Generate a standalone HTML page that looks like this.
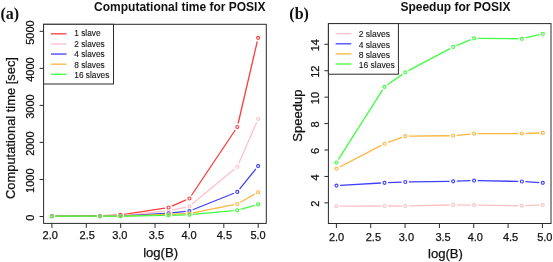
<!DOCTYPE html>
<html><head><meta charset="utf-8"><style>
html,body{margin:0;padding:0;background:#fff;width:553px;height:262px;overflow:hidden}
svg{display:block;will-change:transform}
text{font-family:"Liberation Sans",sans-serif}
</style></head><body>
<svg width="553" height="262" viewBox="0 0 553 262">
<rect width="553" height="262" fill="#ffffff"/>
<path d="M55.50 216.16L96.30 215.74M103.50 215.56L116.90 215.04M124.06 214.35L165.04 208.05M171.90 206.07L186.10 199.93M191.40 195.51L235.30 129.99M238.12 123.49L257.28 41.31" stroke="#ff3c3c" stroke-width="1.3" fill="none" stroke-linecap="butt"/>
<circle cx="51.90" cy="216.20" r="1.5" stroke="#ff3c3c" stroke-width="1.15" fill="none"/>
<circle cx="99.90" cy="215.70" r="1.5" stroke="#ff3c3c" stroke-width="1.15" fill="none"/>
<circle cx="120.50" cy="214.90" r="1.5" stroke="#ff3c3c" stroke-width="1.15" fill="none"/>
<circle cx="168.60" cy="207.50" r="1.5" stroke="#ff3c3c" stroke-width="1.15" fill="none"/>
<circle cx="189.40" cy="198.50" r="1.5" stroke="#ff3c3c" stroke-width="1.15" fill="none"/>
<circle cx="237.30" cy="127.00" r="1.5" stroke="#ff3c3c" stroke-width="1.15" fill="none"/>
<circle cx="258.10" cy="37.80" r="1.5" stroke="#ff3c3c" stroke-width="1.15" fill="none"/>
<path d="M55.50 216.20L96.30 216.20M103.50 216.11L116.90 215.79M124.08 215.34L165.02 211.16M172.12 210.05L185.88 207.15M192.17 204.10L234.53 169.00M238.74 163.40L256.66 122.30" stroke="#ffc0c8" stroke-width="1.3" fill="none" stroke-linecap="butt"/>
<circle cx="51.90" cy="216.20" r="1.5" stroke="#ffc0c8" stroke-width="1.15" fill="none"/>
<circle cx="99.90" cy="216.20" r="1.5" stroke="#ffc0c8" stroke-width="1.15" fill="none"/>
<circle cx="120.50" cy="215.70" r="1.5" stroke="#ffc0c8" stroke-width="1.15" fill="none"/>
<circle cx="168.60" cy="210.80" r="1.5" stroke="#ffc0c8" stroke-width="1.15" fill="none"/>
<circle cx="189.40" cy="206.40" r="1.5" stroke="#ffc0c8" stroke-width="1.15" fill="none"/>
<circle cx="237.30" cy="166.70" r="1.5" stroke="#ffc0c8" stroke-width="1.15" fill="none"/>
<circle cx="258.10" cy="119.00" r="1.5" stroke="#ffc0c8" stroke-width="1.15" fill="none"/>
<path d="M55.50 216.20L96.30 216.20M103.50 216.18L116.90 216.12M124.09 215.88L165.01 213.42M172.18 212.84L185.82 211.46M192.74 209.76L233.96 193.24M239.56 189.10L255.84 168.90" stroke="#4040ff" stroke-width="1.3" fill="none" stroke-linecap="butt"/>
<circle cx="51.90" cy="216.20" r="1.5" stroke="#4040ff" stroke-width="1.15" fill="none"/>
<circle cx="99.90" cy="216.20" r="1.5" stroke="#4040ff" stroke-width="1.15" fill="none"/>
<circle cx="120.50" cy="216.10" r="1.5" stroke="#4040ff" stroke-width="1.15" fill="none"/>
<circle cx="168.60" cy="213.20" r="1.5" stroke="#4040ff" stroke-width="1.15" fill="none"/>
<circle cx="189.40" cy="211.10" r="1.5" stroke="#4040ff" stroke-width="1.15" fill="none"/>
<circle cx="237.30" cy="191.90" r="1.5" stroke="#4040ff" stroke-width="1.15" fill="none"/>
<circle cx="258.10" cy="166.10" r="1.5" stroke="#4040ff" stroke-width="1.15" fill="none"/>
<path d="M55.50 216.20L96.30 216.20M103.50 216.20L116.90 216.20M124.10 216.05L165.00 214.35M172.20 214.10L185.80 213.70M192.93 212.89L233.77 204.71M240.43 202.22L254.97 193.98" stroke="#ffb43c" stroke-width="1.3" fill="none" stroke-linecap="butt"/>
<circle cx="51.90" cy="216.20" r="1.5" stroke="#ffb43c" stroke-width="1.15" fill="none"/>
<circle cx="99.90" cy="216.20" r="1.5" stroke="#ffb43c" stroke-width="1.15" fill="none"/>
<circle cx="120.50" cy="216.20" r="1.5" stroke="#ffb43c" stroke-width="1.15" fill="none"/>
<circle cx="168.60" cy="214.20" r="1.5" stroke="#ffb43c" stroke-width="1.15" fill="none"/>
<circle cx="189.40" cy="213.60" r="1.5" stroke="#ffb43c" stroke-width="1.15" fill="none"/>
<circle cx="237.30" cy="204.00" r="1.5" stroke="#ffb43c" stroke-width="1.15" fill="none"/>
<circle cx="258.10" cy="192.20" r="1.5" stroke="#ffb43c" stroke-width="1.15" fill="none"/>
<path d="M55.50 216.20L96.30 216.20M103.50 216.20L116.90 216.20M124.10 216.14L165.00 215.46M172.20 215.30L185.80 214.90M192.98 214.46L233.72 210.64M240.76 209.32L254.64 205.38" stroke="#40ff40" stroke-width="1.3" fill="none" stroke-linecap="butt"/>
<circle cx="51.90" cy="216.20" r="1.5" stroke="#40ff40" stroke-width="1.15" fill="none"/>
<circle cx="99.90" cy="216.20" r="1.5" stroke="#40ff40" stroke-width="1.15" fill="none"/>
<circle cx="120.50" cy="216.20" r="1.5" stroke="#40ff40" stroke-width="1.15" fill="none"/>
<circle cx="168.60" cy="215.40" r="1.5" stroke="#40ff40" stroke-width="1.15" fill="none"/>
<circle cx="189.40" cy="214.80" r="1.5" stroke="#40ff40" stroke-width="1.15" fill="none"/>
<circle cx="237.30" cy="210.30" r="1.5" stroke="#40ff40" stroke-width="1.15" fill="none"/>
<circle cx="258.10" cy="204.40" r="1.5" stroke="#40ff40" stroke-width="1.15" fill="none"/>
<path d="M340.10 206.19L380.90 206.01M388.10 206.00L401.70 206.00M408.90 205.92L449.60 204.98M456.80 204.93L470.50 205.07M477.70 205.15L518.30 205.75M525.50 205.68L539.20 205.22" stroke="#ffc0c8" stroke-width="1.3" fill="none" stroke-linecap="butt"/>
<circle cx="336.50" cy="206.20" r="1.5" stroke="#ffc0c8" stroke-width="1.15" fill="none"/>
<circle cx="384.50" cy="206.00" r="1.5" stroke="#ffc0c8" stroke-width="1.15" fill="none"/>
<circle cx="405.30" cy="206.00" r="1.5" stroke="#ffc0c8" stroke-width="1.15" fill="none"/>
<circle cx="453.20" cy="204.90" r="1.5" stroke="#ffc0c8" stroke-width="1.15" fill="none"/>
<circle cx="474.10" cy="205.10" r="1.5" stroke="#ffc0c8" stroke-width="1.15" fill="none"/>
<circle cx="521.90" cy="205.80" r="1.5" stroke="#ffc0c8" stroke-width="1.15" fill="none"/>
<circle cx="542.80" cy="205.10" r="1.5" stroke="#ffc0c8" stroke-width="1.15" fill="none"/>
<path d="M340.09 185.39L380.91 183.01M388.10 182.66L401.70 182.14M408.90 181.95L449.60 181.35M456.80 181.18L470.50 180.72M477.70 180.67L518.30 181.43M525.49 181.72L539.21 182.58" stroke="#4040ff" stroke-width="1.3" fill="none" stroke-linecap="butt"/>
<circle cx="336.50" cy="185.60" r="1.5" stroke="#4040ff" stroke-width="1.15" fill="none"/>
<circle cx="384.50" cy="182.80" r="1.5" stroke="#4040ff" stroke-width="1.15" fill="none"/>
<circle cx="405.30" cy="182.00" r="1.5" stroke="#4040ff" stroke-width="1.15" fill="none"/>
<circle cx="453.20" cy="181.30" r="1.5" stroke="#4040ff" stroke-width="1.15" fill="none"/>
<circle cx="474.10" cy="180.60" r="1.5" stroke="#4040ff" stroke-width="1.15" fill="none"/>
<circle cx="521.90" cy="181.50" r="1.5" stroke="#4040ff" stroke-width="1.15" fill="none"/>
<circle cx="542.80" cy="182.80" r="1.5" stroke="#4040ff" stroke-width="1.15" fill="none"/>
<path d="M339.69 167.04L381.31 145.36M387.88 142.46L401.92 137.34M408.90 136.07L449.60 135.73M456.78 135.36L470.52 134.04M477.70 133.68L518.30 133.52M525.50 133.40L539.20 133.00" stroke="#ffb43c" stroke-width="1.3" fill="none" stroke-linecap="butt"/>
<circle cx="336.50" cy="168.70" r="1.5" stroke="#ffb43c" stroke-width="1.15" fill="none"/>
<circle cx="384.50" cy="143.70" r="1.5" stroke="#ffb43c" stroke-width="1.15" fill="none"/>
<circle cx="405.30" cy="136.10" r="1.5" stroke="#ffb43c" stroke-width="1.15" fill="none"/>
<circle cx="453.20" cy="135.70" r="1.5" stroke="#ffb43c" stroke-width="1.15" fill="none"/>
<circle cx="474.10" cy="133.70" r="1.5" stroke="#ffb43c" stroke-width="1.15" fill="none"/>
<circle cx="521.90" cy="133.50" r="1.5" stroke="#ffb43c" stroke-width="1.15" fill="none"/>
<circle cx="542.80" cy="132.90" r="1.5" stroke="#ffb43c" stroke-width="1.15" fill="none"/>
<path d="M338.43 159.46L382.57 89.84M387.45 84.74L402.35 74.36M408.48 70.61L450.02 48.59M456.53 45.53L470.77 39.67M477.70 38.34L518.30 38.76M525.40 37.95L539.30 34.55" stroke="#40ff40" stroke-width="1.3" fill="none" stroke-linecap="butt"/>
<circle cx="336.50" cy="162.50" r="1.5" stroke="#40ff40" stroke-width="1.15" fill="none"/>
<circle cx="384.50" cy="86.80" r="1.5" stroke="#40ff40" stroke-width="1.15" fill="none"/>
<circle cx="405.30" cy="72.30" r="1.5" stroke="#40ff40" stroke-width="1.15" fill="none"/>
<circle cx="453.20" cy="46.90" r="1.5" stroke="#40ff40" stroke-width="1.15" fill="none"/>
<circle cx="474.10" cy="38.30" r="1.5" stroke="#40ff40" stroke-width="1.15" fill="none"/>
<circle cx="521.90" cy="38.80" r="1.5" stroke="#40ff40" stroke-width="1.15" fill="none"/>
<circle cx="542.80" cy="33.70" r="1.5" stroke="#40ff40" stroke-width="1.15" fill="none"/>
<rect x="43.6" y="24.3" width="222.70" height="199.10" fill="none" stroke="#2a2a2a" stroke-width="1.0"/>
<rect x="328.4" y="23.6" width="222.60" height="199.90" fill="none" stroke="#2a2a2a" stroke-width="1.0"/>
<path d="M51.90 223.40V227.90M86.28 223.40V227.90M120.67 223.40V227.90M155.06 223.40V227.90M189.44 223.40V227.90M223.82 223.40V227.90M258.21 223.40V227.90M43.60 216.50H39.60M43.60 179.46H39.60M43.60 142.42H39.60M43.60 105.38H39.60M43.60 68.34H39.60M43.60 31.30H39.60M336.40 223.50V228.00M370.73 223.50V228.00M405.07 223.50V228.00M439.40 223.50V228.00M473.74 223.50V228.00M508.07 223.50V228.00M542.41 223.50V228.00M328.40 202.87H324.40M328.40 176.44H324.40M328.40 150.01H324.40M328.40 123.58H324.40M328.40 97.15H324.40M328.40 70.72H324.40M328.40 44.29H324.40" stroke="#2a2a2a" stroke-width="1.0" fill="none"/>
<text x="50.20" y="239.20" font-family="Liberation Sans" font-size="11.0" font-weight="normal" text-anchor="middle" fill="#111" stroke="#111" stroke-width="0.25">2.0</text>
<text x="87.20" y="239.20" font-family="Liberation Sans" font-size="11.0" font-weight="normal" text-anchor="middle" fill="#111" stroke="#111" stroke-width="0.25">2.5</text>
<text x="119.80" y="239.20" font-family="Liberation Sans" font-size="11.0" font-weight="normal" text-anchor="middle" fill="#111" stroke="#111" stroke-width="0.25">3.0</text>
<text x="156.40" y="239.20" font-family="Liberation Sans" font-size="11.0" font-weight="normal" text-anchor="middle" fill="#111" stroke="#111" stroke-width="0.25">3.5</text>
<text x="189.10" y="239.20" font-family="Liberation Sans" font-size="11.0" font-weight="normal" text-anchor="middle" fill="#111" stroke="#111" stroke-width="0.25">4.0</text>
<text x="224.40" y="239.20" font-family="Liberation Sans" font-size="11.0" font-weight="normal" text-anchor="middle" fill="#111" stroke="#111" stroke-width="0.25">4.5</text>
<text x="258.10" y="239.20" font-family="Liberation Sans" font-size="11.0" font-weight="normal" text-anchor="middle" fill="#111" stroke="#111" stroke-width="0.25">5.0</text>
<text x="336.60" y="240.70" font-family="Liberation Sans" font-size="11.0" font-weight="normal" text-anchor="middle" fill="#111" stroke="#111" stroke-width="0.25">2.0</text>
<text x="373.40" y="240.70" font-family="Liberation Sans" font-size="11.0" font-weight="normal" text-anchor="middle" fill="#111" stroke="#111" stroke-width="0.25">2.5</text>
<text x="406.40" y="240.70" font-family="Liberation Sans" font-size="11.0" font-weight="normal" text-anchor="middle" fill="#111" stroke="#111" stroke-width="0.25">3.0</text>
<text x="443.10" y="240.70" font-family="Liberation Sans" font-size="11.0" font-weight="normal" text-anchor="middle" fill="#111" stroke="#111" stroke-width="0.25">3.5</text>
<text x="475.30" y="240.70" font-family="Liberation Sans" font-size="11.0" font-weight="normal" text-anchor="middle" fill="#111" stroke="#111" stroke-width="0.25">4.0</text>
<text x="510.60" y="240.70" font-family="Liberation Sans" font-size="11.0" font-weight="normal" text-anchor="middle" fill="#111" stroke="#111" stroke-width="0.25">4.5</text>
<text x="544.80" y="240.70" font-family="Liberation Sans" font-size="11.0" font-weight="normal" text-anchor="middle" fill="#111" stroke="#111" stroke-width="0.25">5.0</text>
<text x="34.00" y="217.70" font-family="Liberation Sans" font-size="11.0" font-weight="normal" text-anchor="middle" fill="#111" stroke="#111" stroke-width="0.25" transform="rotate(-90 34.0 217.7)">0</text>
<text x="34.00" y="180.66" font-family="Liberation Sans" font-size="11.0" font-weight="normal" text-anchor="middle" fill="#111" stroke="#111" stroke-width="0.25" transform="rotate(-90 34.0 180.66)">1000</text>
<text x="34.00" y="143.62" font-family="Liberation Sans" font-size="11.0" font-weight="normal" text-anchor="middle" fill="#111" stroke="#111" stroke-width="0.25" transform="rotate(-90 34.0 143.62)">2000</text>
<text x="34.00" y="106.58" font-family="Liberation Sans" font-size="11.0" font-weight="normal" text-anchor="middle" fill="#111" stroke="#111" stroke-width="0.25" transform="rotate(-90 34.0 106.58000000000001)">3000</text>
<text x="34.00" y="69.54" font-family="Liberation Sans" font-size="11.0" font-weight="normal" text-anchor="middle" fill="#111" stroke="#111" stroke-width="0.25" transform="rotate(-90 34.0 69.54)">4000</text>
<text x="34.00" y="32.50" font-family="Liberation Sans" font-size="11.0" font-weight="normal" text-anchor="middle" fill="#111" stroke="#111" stroke-width="0.25" transform="rotate(-90 34.0 32.500000000000014)">5000</text>
<text x="318.70" y="203.77" font-family="Liberation Sans" font-size="11.0" font-weight="normal" text-anchor="middle" fill="#111" stroke="#111" stroke-width="0.25" transform="rotate(-90 318.7 203.77)">2</text>
<text x="318.70" y="177.34" font-family="Liberation Sans" font-size="11.0" font-weight="normal" text-anchor="middle" fill="#111" stroke="#111" stroke-width="0.25" transform="rotate(-90 318.7 177.34)">4</text>
<text x="318.70" y="150.91" font-family="Liberation Sans" font-size="11.0" font-weight="normal" text-anchor="middle" fill="#111" stroke="#111" stroke-width="0.25" transform="rotate(-90 318.7 150.91000000000003)">6</text>
<text x="318.70" y="124.48" font-family="Liberation Sans" font-size="11.0" font-weight="normal" text-anchor="middle" fill="#111" stroke="#111" stroke-width="0.25" transform="rotate(-90 318.7 124.48000000000002)">8</text>
<text x="318.70" y="98.05" font-family="Liberation Sans" font-size="11.0" font-weight="normal" text-anchor="middle" fill="#111" stroke="#111" stroke-width="0.25" transform="rotate(-90 318.7 98.05000000000001)">10</text>
<text x="318.70" y="71.62" font-family="Liberation Sans" font-size="11.0" font-weight="normal" text-anchor="middle" fill="#111" stroke="#111" stroke-width="0.25" transform="rotate(-90 318.7 71.62000000000003)">12</text>
<text x="318.70" y="45.19" font-family="Liberation Sans" font-size="11.0" font-weight="normal" text-anchor="middle" fill="#111" stroke="#111" stroke-width="0.25" transform="rotate(-90 318.7 45.19000000000002)">14</text>
<text x="160.60" y="257.10" font-family="Liberation Sans" font-size="13.1" font-weight="normal" text-anchor="middle" fill="#111" stroke="#111" stroke-width="0.25">log(B)</text>
<text x="445.50" y="257.50" font-family="Liberation Sans" font-size="13.1" font-weight="normal" text-anchor="middle" fill="#111" stroke="#111" stroke-width="0.25">log(B)</text>
<text x="14.70" y="128.00" font-family="Liberation Sans" font-size="12.9" font-weight="normal" text-anchor="middle" fill="#111" stroke="#111" stroke-width="0.25" transform="rotate(-90 14.7 128.0)">Computational time [sec]</text>
<text x="302.50" y="115.60" font-family="Liberation Sans" font-size="13.1" font-weight="normal" text-anchor="middle" fill="#111" stroke="#111" stroke-width="0.25" transform="rotate(-90 302.5 115.6)">Speedup</text>
<text x="94.10" y="11.20" font-family="Liberation Sans" font-size="12" font-weight="bold" text-anchor="start" fill="#111">Computational time for POSIX</text>
<text x="400.40" y="11.10" font-family="Liberation Sans" font-size="12" font-weight="bold" text-anchor="start" fill="#111">Speedup for POSIX</text>
<text x="0.50" y="19.30" font-family="Liberation Serif" style="font-family:'Liberation Serif',serif" font-size="16" font-weight="bold" text-anchor="start" fill="#111">(a)</text>
<text x="289.30" y="19.00" font-family="Liberation Serif" style="font-family:'Liberation Serif',serif" font-size="16" font-weight="bold" text-anchor="start" fill="#111">(b)</text>
<rect x="43.60" y="24.30" width="69.90" height="59.70" fill="white" stroke="#2a2a2a" stroke-width="1.0"/>
<line x1="50.9" y1="33.80" x2="66.5" y2="33.80" stroke="#ff3c3c" stroke-width="1.3"/>
<text x="74.30" y="36.49" font-family="Liberation Sans" font-size="8.3" font-weight="normal" text-anchor="start" fill="#111" stroke="#111" stroke-width="0.1">1 slave</text>
<line x1="50.9" y1="43.92" x2="66.5" y2="43.92" stroke="#ffc0c8" stroke-width="1.3"/>
<text x="74.30" y="46.84" font-family="Liberation Sans" font-size="8.3" font-weight="normal" text-anchor="start" fill="#111" stroke="#111" stroke-width="0.1">2 slaves</text>
<line x1="50.9" y1="54.04" x2="66.5" y2="54.04" stroke="#4040ff" stroke-width="1.3"/>
<text x="74.30" y="57.19" font-family="Liberation Sans" font-size="8.3" font-weight="normal" text-anchor="start" fill="#111" stroke="#111" stroke-width="0.1">4 slaves</text>
<line x1="50.9" y1="64.16" x2="66.5" y2="64.16" stroke="#ffb43c" stroke-width="1.3"/>
<text x="74.30" y="67.54" font-family="Liberation Sans" font-size="8.3" font-weight="normal" text-anchor="start" fill="#111" stroke="#111" stroke-width="0.1">8 slaves</text>
<line x1="50.9" y1="74.28" x2="66.5" y2="74.28" stroke="#40ff40" stroke-width="1.3"/>
<text x="74.30" y="77.89" font-family="Liberation Sans" font-size="8.3" font-weight="normal" text-anchor="start" fill="#111" stroke="#111" stroke-width="0.1">16 slaves</text>
<rect x="328.40" y="23.60" width="70.00" height="50.60" fill="white" stroke="#2a2a2a" stroke-width="1.0"/>
<line x1="335.6" y1="33.70" x2="351.3" y2="33.70" stroke="#ffc0c8" stroke-width="1.3"/>
<text x="358.70" y="37.48" font-family="Liberation Sans" font-size="8.55" font-weight="normal" text-anchor="start" fill="#111" stroke="#111" stroke-width="0.1">2 slaves</text>
<line x1="335.6" y1="43.80" x2="351.3" y2="43.80" stroke="#4040ff" stroke-width="1.3"/>
<text x="358.70" y="47.53" font-family="Liberation Sans" font-size="8.55" font-weight="normal" text-anchor="start" fill="#111" stroke="#111" stroke-width="0.1">4 slaves</text>
<line x1="335.6" y1="53.90" x2="351.3" y2="53.90" stroke="#ffb43c" stroke-width="1.3"/>
<text x="358.70" y="57.58" font-family="Liberation Sans" font-size="8.55" font-weight="normal" text-anchor="start" fill="#111" stroke="#111" stroke-width="0.1">8 slaves</text>
<line x1="335.6" y1="64.00" x2="351.3" y2="64.00" stroke="#40ff40" stroke-width="1.3"/>
<text x="358.70" y="67.63" font-family="Liberation Sans" font-size="8.55" font-weight="normal" text-anchor="start" fill="#111" stroke="#111" stroke-width="0.1">16 slaves</text>
</svg>
</body></html>
